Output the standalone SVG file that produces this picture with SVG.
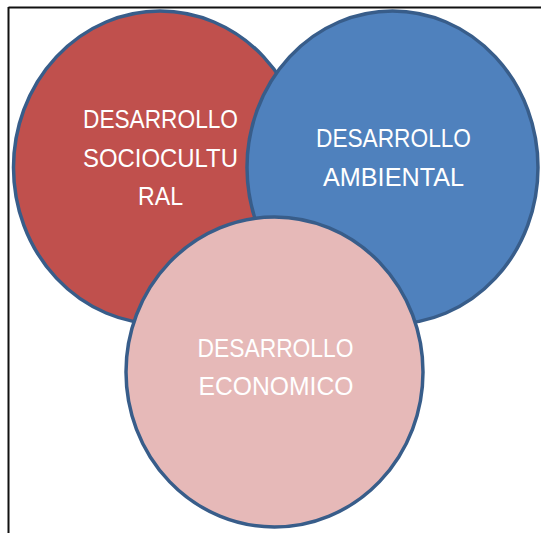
<svg xmlns="http://www.w3.org/2000/svg" width="541" height="533" viewBox="0 0 541 533">
<style>
.c{stroke:#385D8A;stroke-width:3.5}
.t{font-family:"Liberation Sans",Arial,sans-serif;font-size:25px;fill:#FFFFFF;text-anchor:middle}
</style>
<rect width="541" height="533" fill="#FFFFFF"/>
<g id="frame">
<line x1="8.5" y1="7.5" x2="541" y2="7.5" stroke="#111" stroke-width="2"/>
<line x1="8.5" y1="7" x2="8.5" y2="533" stroke="#111" stroke-width="2"/>
</g>
<g id="connectors"></g>
<g id="sociocultural">
<ellipse class="c" cx="160" cy="167.5" rx="146.5" ry="156.5" fill="#C0504D"/>
<text class="t" x="160.5" y="127.5" textLength="155" lengthAdjust="spacingAndGlyphs">DESARROLLO</text>
<text class="t" x="160.5" y="166.5" textLength="155" lengthAdjust="spacingAndGlyphs">SOCIOCULTU</text>
<text class="t" x="160.5" y="205" textLength="45" lengthAdjust="spacingAndGlyphs">RAL</text>
</g>
<g id="ambiental">
<ellipse class="c" cx="392.5" cy="167.5" rx="145.5" ry="156.5" fill="#4F81BD"/>
<text class="t" x="393.5" y="146.5" textLength="155" lengthAdjust="spacingAndGlyphs">DESARROLLO</text>
<text class="t" x="393.5" y="186" textLength="141" lengthAdjust="spacingAndGlyphs">AMBIENTAL</text>
</g>
<g id="economico">
<ellipse class="c" cx="274.5" cy="372" rx="148.5" ry="155" fill="#E6B9B8"/>
<text class="t" x="275.5" y="357" textLength="156" lengthAdjust="spacingAndGlyphs">DESARROLLO</text>
<text class="t" x="276" y="395" textLength="155" lengthAdjust="spacingAndGlyphs">ECONOMICO</text>
</g>
</svg>
